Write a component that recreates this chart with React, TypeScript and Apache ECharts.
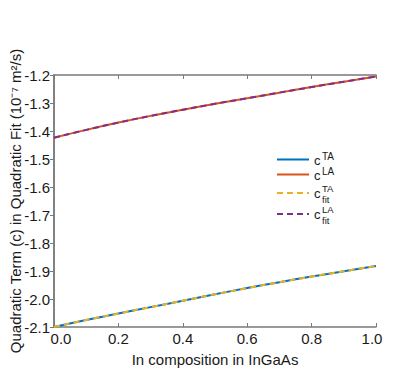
import React, { useEffect, useRef } from "react";
import * as echarts from "echarts";

const composition = [0, 0.1, 0.2, 0.3, 0.4, 0.5, 0.6, 0.7, 0.8, 0.9, 1.0];
const cTA = [-2.100, -2.075, -2.052, -2.029, -2.006, -1.983, -1.961, -1.940, -1.920, -1.901, -1.882];
const cLA = [-1.424, -1.396, -1.370, -1.346, -1.324, -1.303, -1.283, -1.263, -1.243, -1.224, -1.205];
const cTAfit = [-2.100, -2.075, -2.052, -2.029, -2.006, -1.983, -1.961, -1.940, -1.920, -1.901, -1.882];
const cLAfit = [-1.424, -1.396, -1.370, -1.346, -1.324, -1.303, -1.283, -1.263, -1.243, -1.224, -1.205];

const legendItems = [
  { sup: "TA", sub: "", color: "#0072BD", dashed: false },
  { sup: "LA", sub: "", color: "#D95319", dashed: false },
  { sup: "TA", sub: "fit", color: "#EDB120", dashed: true },
  { sup: "LA", sub: "fit", color: "#7E2F8E", dashed: true },
];

const FONT = "'Liberation Sans', Arial, Helvetica, sans-serif";
const AX = "#7a7a7a";
const TXT = "#1a1a1a";

export default function App() {
  const ref = useRef<HTMLDivElement>(null);
  useEffect(() => {
    if (!ref.current) return;
    const chart = echarts.init(ref.current, null, { renderer: "svg" });
    const pair = (ys: number[]) => composition.map((x, i) => [x, ys[i]]);
    const legendYs = [159.5, 174.5, 193, 214];
    const legendGraphics: any[] = [];
    legendItems.forEach((it, i) => {
      const y = legendYs[i];
      legendGraphics.push({
        type: "line",
        shape: { x1: 277, y1: y, x2: 309, y2: y },
        style: { stroke: it.color, lineWidth: 2, lineDash: it.dashed ? [6, 4] : null },
      });
      legendGraphics.push({
        type: "text",
        x: 314,
        y: y + 0.5,
        style: {
          text: "c",
          font: `13px ${FONT}`,
          fill: TXT,
          verticalAlign: "middle",
        },
      });
      if (it.sub) {
        legendGraphics.push({
          type: "text",
          x: 322,
          y: y + 0.5,
          style: {
            text: it.sup + "\n" + it.sub,
            font: `9.5px ${FONT}`,
            lineHeight: 11,
            fill: TXT,
            verticalAlign: "middle",
          },
        });
      } else {
        legendGraphics.push({
          type: "text",
          x: 322,
          y: y - 3.5,
          style: {
            text: it.sup,
            font: `10px ${FONT}`,
            fill: TXT,
            verticalAlign: "middle",
          },
        });
      }
    });
    const lineSeries = (name: string, ys: number[], color: string, dashed: boolean) => ({
      name,
      type: "line",
      data: pair(ys),
      smooth: true,
      symbol: "none",
      lineStyle: { color, width: 2, type: dashed ? [6, 4] : "solid" },
      z: dashed ? 3 : 2,
    });
    const tickText = { fontFamily: FONT, fontSize: 15, color: TXT };
    chart.setOption({
      animation: false,
      backgroundColor: "#ffffff",
      grid: {
        left: 54,
        top: 75,
        right: 39,
        bottom: 46,
        containLabel: false,
        outerBoundsMode: "none",
      },
      xAxis: [
        {
          type: "value",
          min: 0,
          max: 1,
          interval: 0.2,
          name: "In composition in InGaAs",
          nameLocation: "middle",
          nameGap: 25,
          nameTextStyle: { fontFamily: FONT, fontSize: 15, color: TXT },
          axisLine: { show: true, lineStyle: { color: AX, width: 1.5 } },
          axisTick: { show: true, inside: true, length: 4, lineStyle: { color: AX } },
          axisLabel: {
            ...tickText,
            margin: 4,
            formatter: (v: number) =>
              v === 0 ? `{first|${v.toFixed(1)}}` : v === 1 ? `{last|${v.toFixed(1)}}` : v.toFixed(1),
            rich: {
              first: { ...tickText, padding: [0, 0, 0, 14] },
              last: { ...tickText, padding: [0, 8, 0, 0] },
            },
          },
          splitLine: { show: false },
        },
        {
          type: "value",
          position: "top",
          min: 0,
          max: 1,
          interval: 0.2,
          axisLine: { show: true, lineStyle: { color: AX, width: 1.5 } },
          axisTick: { show: true, inside: true, length: 4, lineStyle: { color: AX } },
          axisLabel: { show: false },
          splitLine: { show: false },
        },
      ],
      yAxis: [
        {
          type: "value",
          min: -2.1,
          max: -1.2,
          interval: 0.1,
          name: "Quadratic Term (c) in Quadratic Fit (10\u207B\u2077 m\u00B2/s)",
          nameLocation: "middle",
          nameGap: 31,
          nameMoveOverlap: false,
          nameTextStyle: { fontFamily: FONT, fontSize: 15, color: TXT },
          axisLine: { show: true, lineStyle: { color: AX, width: 1.5 } },
          axisTick: { show: true, inside: false, length: 3, lineStyle: { color: AX } },
          axisLabel: {
            ...tickText,
            margin: 4,
            formatter: (v: number) => v.toFixed(1),
          },
          splitLine: { show: false },
        },
        {
          type: "value",
          position: "right",
          min: -2.1,
          max: -1.2,
          interval: 0.1,
          axisLine: { show: true, lineStyle: { color: AX, width: 1.5 } },
          axisTick: { show: true, inside: true, length: 4, lineStyle: { color: AX } },
          axisLabel: { show: false },
          splitLine: { show: false },
        },
      ],
      series: [
        lineSeries("cTA", cTA, "#0072BD", false),
        lineSeries("cLA", cLA, "#D95319", false),
        lineSeries("cTAfit", cTAfit, "#EDB120", true),
        lineSeries("cLAfit", cLAfit, "#7E2F8E", true),
      ],
      graphic: legendGraphics,
    });
    return () => chart.dispose();
  }, []);
  return (
    <div
      ref={ref}
      style={{ position: "fixed", left: 0, top: 0, width: 415, height: 373, background: "#fff" }}
    />
  );
}
